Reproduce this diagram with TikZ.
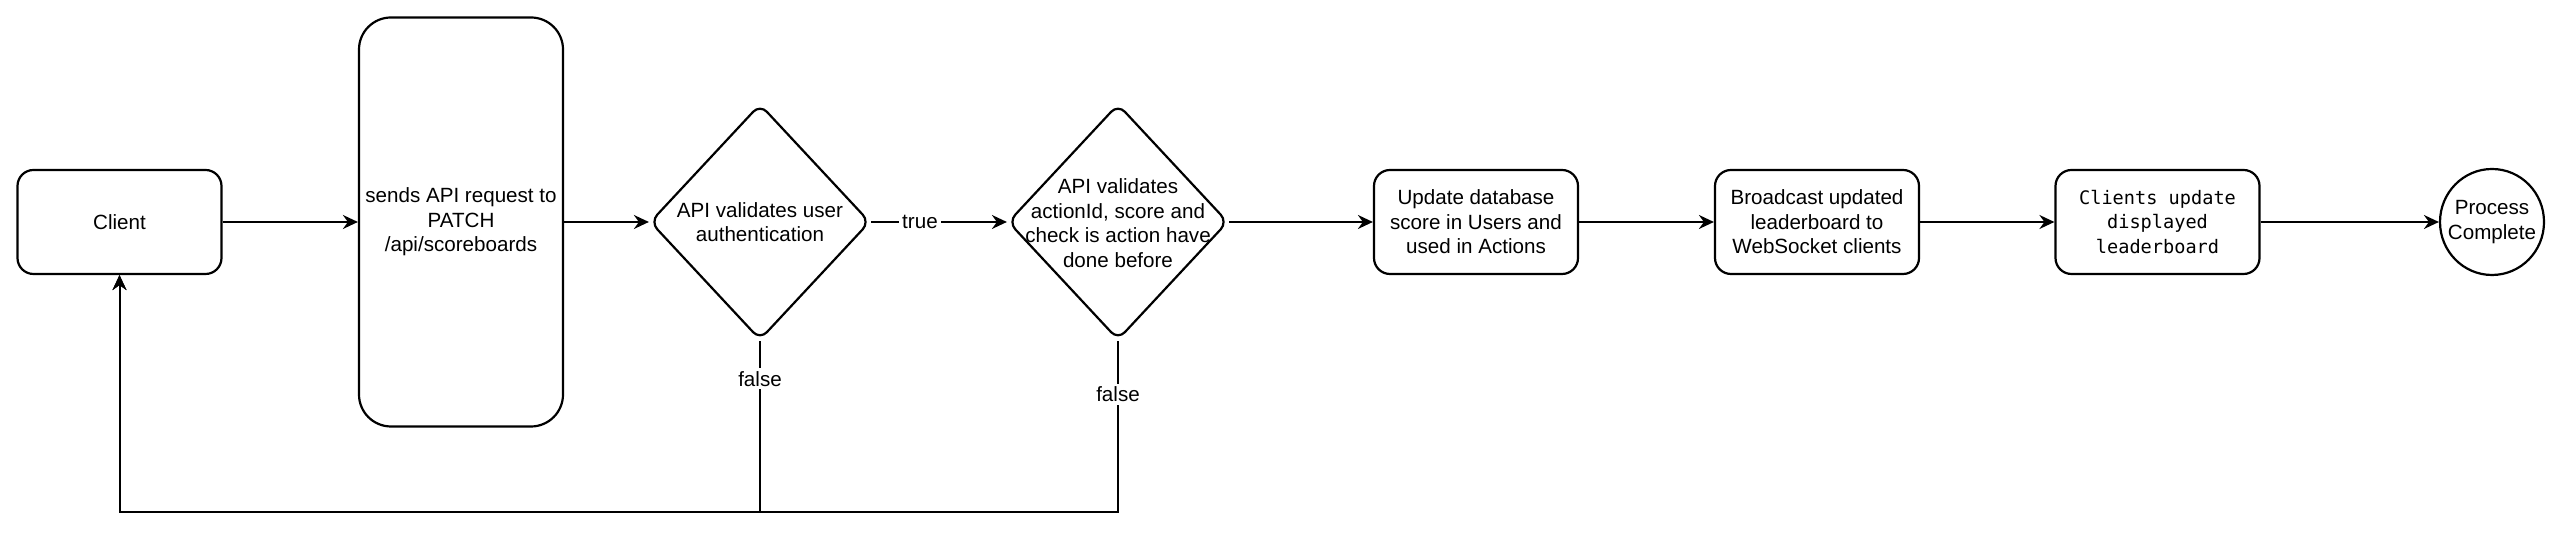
\documentclass[tikz,border=0pt]{standalone}
\usepackage{fontspec}
\setmainfont{Liberation Sans}
\newfontfamily\codefont{DejaVu Sans Mono}
\usetikzlibrary{shapes.geometric,arrows.meta}
\begin{document}
\begin{tikzpicture}[x=0.5pt,y=0.5pt,
  every node/.style={font=\fontsize{10.3pt}{12.3pt}\selectfont},
  box/.style={draw, line width=1.1pt, rounded corners=8pt, align=center, inner sep=0pt,
    minimum width=102pt, minimum height=52pt},
  tallbox/.style={draw, line width=1.1pt, rounded corners=16pt, align=center, inner sep=0pt,
    minimum width=102pt, minimum height=204.5pt},
  decision/.style={draw, line width=1.1pt, shape=diamond, rounded corners=5pt, inner sep=0pt,
    minimum width=110pt, minimum height=118pt},
  dtext/.style={align=center, inner sep=0pt},
  endnode/.style={draw, line width=1.1pt, ellipse, inner sep=0pt,
    minimum width=52pt, minimum height=53pt},
  flow/.style={line width=1pt, -{Stealth[length=7.5pt,width=7pt,inset=2.5pt]}},
  lbl/.style={fill=white, inner sep=1.5pt}
]
\useasboundingbox (0,0) rectangle (2560,544);
\fill[white] (0,0) rectangle (2560,544);

\node[box] (client) at (119.5,322) {Client};
\node[tallbox] (send) at (461,322) {sends API request to\\PATCH\\/api/scoreboards};
\node[decision] (d1) at (760,322) {};
\node[dtext] (d1t) at (760,322) {API validates user\\authentication};
\node[decision] (d2) at (1118,322) {};
\node[dtext] (d2t) at (1118,321) {API validates\\actionId, score and\\check is action have\\done before};
\node[box] (upd) at (1476,322) {Update database\\score in Users and\\used in Actions};
\node[box] (bc) at (1817,322) {Broadcast updated\\leaderboard to\\WebSocket clients};
\node[box, font=\codefont\fontsize{9.3pt}{12.3pt}\selectfont] (cl) at (2157.5,322) {Clients update\\displayed\\leaderboard};
\node[endnode] (done) at (2492,322) {};
\node[dtext] (donet) at (2492,322) {Process\\Complete};

\coordinate (bot) at (760,32);

\draw[flow] (client) -- (send);
\draw[flow] (send) -- (d1);
\draw[flow] (d1.east) -- node[lbl, pos=0.36] {true} (d2.west);
\draw[flow] (d2.east) -- (upd);
\draw[flow] (upd) -- (bc);
\draw[flow] (bc) -- (cl);
\draw[flow] (cl) -- (done);

\draw[flow] (d1.south) -- node[lbl, pos=0.22] {false} (bot) -| (client.south);
\draw[flow] (d2.south) -- node[lbl, pos=0.31] {false} (d2.south |- bot) -| (client.south);
\end{tikzpicture}
\end{document}
